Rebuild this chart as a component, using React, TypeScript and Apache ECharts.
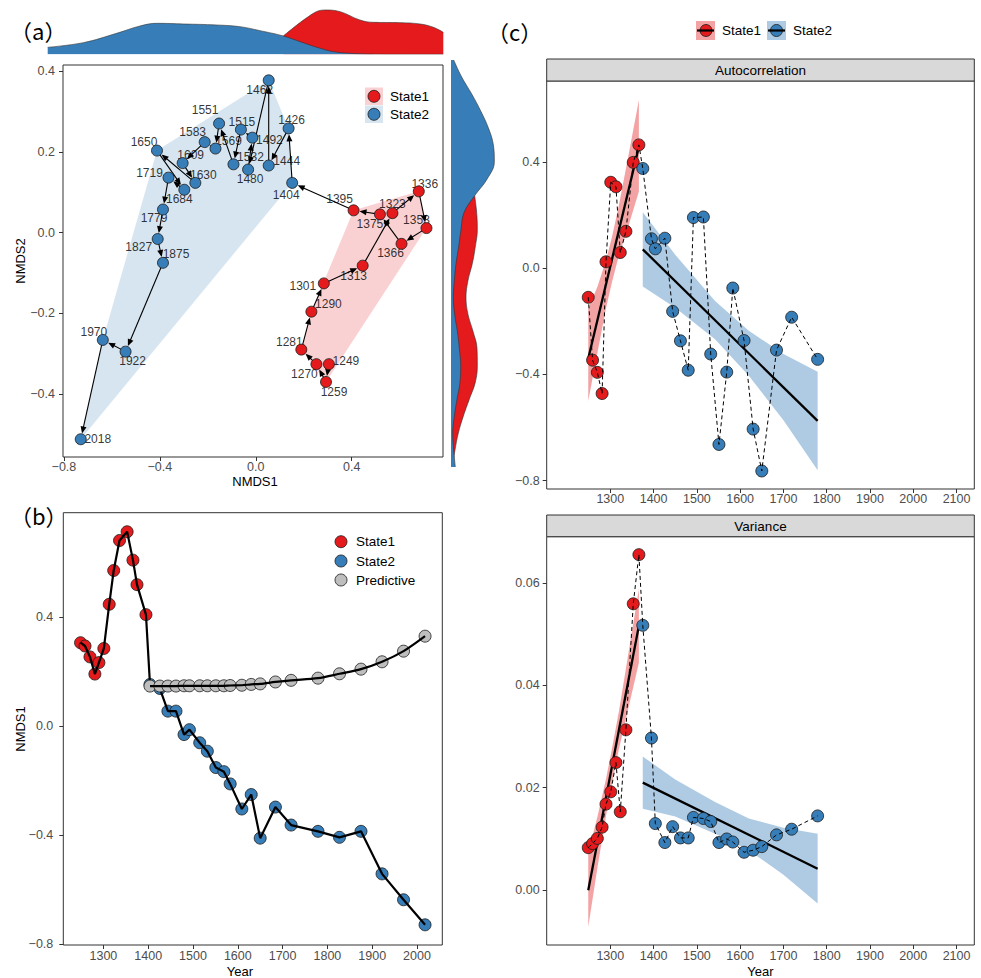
import React, { useEffect, useRef } from 'react';
import * as echarts from 'echarts';

// ---------------- DATA ----------------
const state1Years = [1249, 1259, 1270, 1281, 1290, 1301, 1313, 1323, 1336, 1353, 1366, 1375, 1395];
const state1NMDS1 = [0.305, 0.293, 0.253, 0.19, 0.232, 0.284, 0.446, 0.57, 0.68, 0.712, 0.608, 0.518, 0.408];
const state1NMDS2 = [-0.326, -0.37, -0.326, -0.29, -0.196, -0.126, -0.082, 0.048, 0.102, 0.011, -0.028, 0.045, 0.055];

const state2Years = [1404, 1426, 1444, 1462, 1480, 1492, 1515, 1532, 1551, 1569, 1583, 1609, 1630, 1650, 1684, 1719, 1779, 1827, 1875, 1922, 1970, 2018];
const state2NMDS1 = [0.152, 0.137, 0.054, 0.054, -0.032, -0.014, -0.062, -0.093, -0.153, -0.168, -0.213, -0.305, -0.252, -0.412, -0.298, -0.364, -0.387, -0.409, -0.387, -0.543, -0.638, -0.73];
const state2NMDS2 = [0.123, 0.258, 0.166, 0.377, 0.156, 0.235, 0.255, 0.169, 0.27, 0.208, 0.224, 0.172, 0.123, 0.203, 0.106, 0.136, 0.057, -0.016, -0.075, -0.295, -0.266, -0.512];

const predYears = [1404, 1426, 1444, 1462, 1480, 1492, 1515, 1532, 1551, 1569, 1583, 1609, 1630, 1650, 1684, 1719, 1779, 1827, 1875, 1922, 1970, 2018];
const predNMDS1 = [0.146, 0.146, 0.146, 0.146, 0.147, 0.147, 0.147, 0.147, 0.147, 0.147, 0.148, 0.149, 0.152, 0.154, 0.161, 0.167, 0.175, 0.191, 0.208, 0.235, 0.274, 0.329];

// marginal densities
const topDensX2 = [-0.73, -0.599, -0.477, -0.391, -0.33, -0.232, -0.11, -0.025, 0.049, 0.135, 0.196, 0.27, 0.318, 0.38, 0.441, 0.55, 0.722];
const topDens2 = [0.21, 0.35, 0.63, 0.85, 0.93, 0.91, 0.88, 0.83, 0.71, 0.55, 0.38, 0.18, 0.08, 0.03, 0.01, 0.0, 0.0];
const topDensX1 = [0.135, 0.245, 0.288, 0.343, 0.416, 0.465, 0.563, 0.637, 0.686, 0.722];
const topDens1 = [0.55, 1.23, 1.33, 1.28, 1.03, 0.96, 0.95, 0.91, 0.81, 0.66];

const rightDensY = [0.377, 0.34, 0.303, 0.266, 0.229, 0.192, 0.155, 0.118, 0.081, 0.044, 0.007, -0.03, -0.067, -0.104, -0.141, -0.178, -0.215, -0.252, -0.289, -0.326, -0.363, -0.4, -0.437, -0.474, -0.511];
const rightDens2 = [0.08, 0.32, 0.62, 0.89, 1.12, 1.27, 1.3, 1.09, 0.71, 0.39, 0.3, 0.23, 0.15, 0.1, 0.07, 0.11, 0.19, 0.25, 0.29, 0.27, 0.18, 0.1, 0.05, 0.08, 0.13];
const rightDens1 = [null, null, null, null, null, null, null, null, 0.71, 0.77, 0.79, 0.73, 0.64, 0.51, 0.45, 0.51, 0.66, 0.78, 0.79, 0.73, 0.55, 0.37, 0.22, 0.12, 0.04];

// panel (c)
const cYears1 = [1249, 1259, 1270, 1281, 1290, 1301, 1313, 1323, 1336, 1353, 1366];
const cYears2 = [1375, 1395, 1404, 1426, 1444, 1462, 1480, 1492, 1515, 1532, 1551, 1569, 1583, 1609, 1630, 1650, 1684, 1719, 1779];
const ac1 = [-0.109, -0.346, -0.392, -0.472, 0.025, 0.325, 0.308, 0.06, 0.14, 0.4, 0.466];
const ac2 = [0.377, 0.112, 0.074, 0.114, -0.162, -0.273, -0.384, 0.192, 0.194, -0.323, -0.664, -0.391, -0.074, -0.272, -0.606, -0.764, -0.308, -0.184, -0.343];
const var1 = [0.0083, 0.0091, 0.0101, 0.0123, 0.0168, 0.0192, 0.0249, 0.0153, 0.0313, 0.0559, 0.0655];
const var2 = [0.0517, 0.0297, 0.013, 0.0093, 0.0124, 0.0102, 0.0102, 0.0142, 0.014, 0.0134, 0.0093, 0.01, 0.0094, 0.0074, 0.0078, 0.0085, 0.0108, 0.0119, 0.0145];

const fitYears1 = [1249, 1366];
const fitYears2 = [1375, 1779];
const acFit1 = [-0.34, 0.459];
const acFit2 = [0.072, -0.575];
const varFit1 = [0.0, 0.0516];
const varFit2 = [0.021, 0.0042];

const bandYears1 = [1249, 1270, 1290, 1304, 1320, 1340, 1366];
const bandYears2 = [1375, 1450, 1542, 1620, 1700, 1779];
const acBand1Lo = [-0.5, -0.32, -0.15, -0.05, 0.05, 0.15, 0.29];
const acBand1Hi = [-0.15, -0.07, 0.03, 0.12, 0.24, 0.41, 0.635];
const acBand2Lo = [-0.068, -0.148, -0.267, -0.405, -0.573, -0.761];
const acBand2Hi = [0.212, 0.052, -0.123, -0.235, -0.323, -0.39];
const varBand1Lo = [-0.0072, 0.0043, 0.0145, 0.0209, 0.0276, 0.0349, 0.0444];
const varBand1Hi = [0.0072, 0.0143, 0.0217, 0.0277, 0.035, 0.0453, 0.0588];
const varBand2Lo = [0.0159, 0.0144, 0.011, 0.0078, 0.003, -0.0026];
const varBand2Hi = [0.0261, 0.0216, 0.0172, 0.014, 0.0122, 0.011];

// tick values
const ticksA_x = [-0.8, -0.4, 0, 0.4];
const ticksA_y = [-0.4, -0.2, 0, 0.2, 0.4];
const ticksB_x = [1300, 1400, 1500, 1600, 1700, 1800, 1900, 2000];
const ticksB_y = [-0.8, -0.4, 0, 0.4];
const ticksC_x = [1300, 1400, 1500, 1600, 1700, 1800, 1900, 2000, 2100];
const ticksC_y1 = [-0.8, -0.4, 0, 0.4];
const ticksC_y2 = [0, 0.02, 0.04, 0.06];

// label placement (style, px offsets)
const labelOffsets: Record<number, [number, number]> = {
  1249: [17, -3], 1259: [8, 10], 1270: [-12, 10], 1281: [-12, -8], 1290: [17, -8], 1301: [-21, 3], 1313: [-9, 10],
  1323: [0, -9], 1336: [6, -7], 1353: [-10, -8], 1366: [-11, 9], 1375: [-10, 10], 1395: [-14, -11],
  1404: [-6, 12], 1426: [3, -8], 1444: [18, -5], 1462: [-9, 10], 1480: [2, 9], 1492: [17, 2], 1515: [1, -8],
  1532: [17, -7], 1551: [-14, -14], 1569: [13, -8], 1583: [-12, -10], 1609: [8, -8], 1630: [8, -8], 1650: [-13, -9],
  1684: [-5, 9], 1719: [-19, -5], 1779: [-9, 8], 1827: [-19, 8], 1875: [13, -9], 1922: [7, 9], 1970: [-9, -8], 2018: [17, 0],
};

// ---------------- STYLE ----------------
const RED = '#E41A1C';
const BLUE = '#377EB8';
const GREY = '#BEBEBE';
const FONT = "'Liberation Sans', Arial, sans-serif";
const CJK = "'Noto Sans CJK SC', sans-serif";

const fmt = (d: number) => (v: number) => (v < -1e-9 ? '\u2212' : '') + Math.abs(v).toFixed(d);

function convexHull(pts: number[][]) {
  const p = pts.slice().sort((a, b) => a[0] - b[0] || a[1] - b[1]);
  const cross = (o: number[], a: number[], b: number[]) => (a[0] - o[0]) * (b[1] - o[1]) - (a[1] - o[1]) * (b[0] - o[0]);
  const lower: number[][] = [];
  for (const q of p) {
    while (lower.length >= 2 && cross(lower[lower.length - 2], lower[lower.length - 1], q) <= 0) lower.pop();
    lower.push(q);
  }
  const upper: number[][] = [];
  for (let i = p.length - 1; i >= 0; i--) {
    const q = p[i];
    while (upper.length >= 2 && cross(upper[upper.length - 2], upper[upper.length - 1], q) <= 0) upper.pop();
    upper.push(q);
  }
  upper.pop();
  lower.pop();
  return lower.concat(upper);
}

function valueAxis(gridIndex: number, min: number, max: number, ticks: number[], digits: number, margin: number) {
  return {
    type: 'value', gridIndex, min, max,
    axisLine: { show: false, onZero: false },
    axisTick: { show: true, length: 4, lineStyle: { color: '#333', width: 1 }, customValues: ticks },
    axisLabel: { show: true, customValues: ticks, formatter: fmt(digits), color: '#4D4D4D', fontSize: 12.5, margin, fontFamily: FONT },
    splitLine: { show: false },
  };
}

function hiddenAxis(gridIndex: number, min: number, max: number) {
  return { type: 'value', gridIndex, min, max, show: false, axisLine: { onZero: false }, splitLine: { show: false } };
}

function ribbon(xi: number, yi: number, years: number[], lo: number[], hi: number[], color: string) {
  return {
    type: 'custom', xAxisIndex: xi, yAxisIndex: yi, z: 1, silent: true,
    data: [[years[0], lo[0]]], encode: { x: 0, y: 1 },
    renderItem: (_p: any, api: any) => ({
      type: 'polygon',
      shape: {
        points: [
          ...years.map((t, i) => api.coord([t, hi[i]])),
          ...years.map((t, i) => api.coord([t, lo[i]])).reverse(),
        ],
      },
      style: { fill: color },
    }),
  };
}

function fitLine(xi: number, yi: number, years: number[], vals: number[]) {
  return {
    type: 'line', xAxisIndex: xi, yAxisIndex: yi, z: 2, symbol: 'none', silent: true,
    data: years.map((t, i) => [t, vals[i]]),
    lineStyle: { color: '#000', width: 2.3 },
  };
}

function pts(xi: number, yi: number, xs: number[], ys: number[], color: string, z: number, size = 12) {
  return {
    type: 'scatter', xAxisIndex: xi, yAxisIndex: yi, z, symbolSize: size, silent: true,
    data: xs.map((x, i) => [x, ys[i]]),
    itemStyle: { color, borderColor: '#1a1a1a', borderWidth: 0.8, opacity: 1 },
  };
}

function buildOption() {
  const path = [
    ...state1Years.map((y, i) => [state1NMDS1[i], state1NMDS2[i], y]),
    ...state2Years.map((y, i) => [state2NMDS1[i], state2NMDS2[i], y]),
  ];
  const segments = path.slice(0, -1).map((p, i) => [p[0], p[1], path[i + 1][0], path[i + 1][1]]);
  const hull1 = convexHull(state1Years.map((_, i) => [state1NMDS1[i], state1NMDS2[i]]));
  const hull2 = convexHull(state2Years.map((_, i) => [state2NMDS1[i], state2NMDS2[i]]));
  const hulls = [hull1, hull2];
  const hullColors = ['rgba(228,26,28,0.2)', 'rgba(55,126,184,0.2)'];

  const obsYears = [...state1Years, ...state2Years];
  const obsVals = [...state1NMDS1, ...state2NMDS1];

  const cAllYears = [...cYears1, ...cYears2];
  const acAll = [...ac1, ...ac2];
  const varAll = [...var1, ...var2];

  const series: any[] = [
    // ---- (a) hulls
    {
      type: 'custom', xAxisIndex: 0, yAxisIndex: 0, z: 1, silent: true,
      data: hulls.map((h) => h[0]), encode: { x: 0, y: 1 },
      renderItem: (params: any, api: any) => ({
        type: 'polygon',
        shape: { points: hulls[params.dataIndex].map((p) => api.coord(p)) },
        style: { fill: hullColors[params.dataIndex] },
      }),
    },
    // ---- (a) year labels
    {
      type: 'scatter', xAxisIndex: 0, yAxisIndex: 0, z: 2, symbolSize: 1, silent: true,
      itemStyle: { color: 'rgba(0,0,0,0)' },
      data: path.map((p) => ({ value: [p[0], p[1]], name: String(p[2]), label: { offset: labelOffsets[p[2]] || [0, 0] } })),
      label: { show: true, position: 'inside', formatter: '{b}', color: '#000', fontSize: 12, fontFamily: FONT },
    },
    // ---- (a) arrows
    {
      type: 'custom', xAxisIndex: 0, yAxisIndex: 0, z: 3, silent: true,
      data: segments, encode: { x: [0, 2], y: [1, 3] },
      renderItem: (_p: any, api: any) => {
        const a = api.coord([api.value(0), api.value(1)]);
        const b = api.coord([api.value(2), api.value(3)]);
        const dx = b[0] - a[0];
        const dy = b[1] - a[1];
        const len = Math.hypot(dx, dy) || 1;
        const ux = dx / len;
        const uy = dy / len;
        const tip = [b[0] - ux * 6, b[1] - uy * 6];
        const L = 7;
        const W = 3;
        const base = [tip[0] - ux * L, tip[1] - uy * L];
        return {
          type: 'group',
          children: [
            { type: 'line', shape: { x1: a[0], y1: a[1], x2: tip[0] - ux * 2, y2: tip[1] - uy * 2 }, style: { stroke: '#000', lineWidth: 1.1 } },
            { type: 'polygon', shape: { points: [tip, [base[0] - uy * W, base[1] + ux * W], [base[0] + uy * W, base[1] - ux * W]] }, style: { fill: '#000' } },
          ],
        };
      },
    },
    pts(0, 0, state1NMDS1, state1NMDS2, RED, 4, 11),
    pts(0, 0, state2NMDS1, state2NMDS2, BLUE, 4, 11),

    // ---- top marginal density
    {
      type: 'line', xAxisIndex: 1, yAxisIndex: 1, z: 1, symbol: 'none', smooth: 0.4, silent: true,
      data: topDensX1.map((x, i) => [x, topDens1[i]]),
      lineStyle: { color: '#333', width: 0.6 }, areaStyle: { color: RED, opacity: 1 },
    },
    {
      type: 'line', xAxisIndex: 1, yAxisIndex: 1, z: 2, symbol: 'none', smooth: 0.4, silent: true,
      data: topDensX2.map((x, i) => [x, topDens2[i]]),
      lineStyle: { color: '#333', width: 0.6 }, areaStyle: { color: BLUE, opacity: 1 },
    },
    // ---- right marginal density
    {
      type: 'line', xAxisIndex: 2, yAxisIndex: 2, z: 1, symbol: 'none', smooth: 0.4, silent: true, connectNulls: false,
      data: rightDens1.map((v) => (v === null ? '-' : v)),
      lineStyle: { color: '#333', width: 0.6 }, areaStyle: { color: RED, opacity: 1 },
    },
    {
      type: 'line', xAxisIndex: 2, yAxisIndex: 2, z: 2, symbol: 'none', smooth: 0.4, silent: true,
      data: rightDens2,
      lineStyle: { color: '#333', width: 0.6 }, areaStyle: { color: BLUE, opacity: 1 },
    },

    // ---- (b)
    pts(3, 3, state1Years, state1NMDS1, RED, 2),
    pts(3, 3, state2Years, state2NMDS1, BLUE, 2),
    {
      type: 'line', xAxisIndex: 3, yAxisIndex: 3, z: 3, symbol: 'none', silent: true,
      data: obsYears.map((t, i) => [t, obsVals[i]]),
      lineStyle: { color: '#000', width: 2.2 },
    },
    pts(3, 3, predYears, predNMDS1, GREY, 4),
    {
      type: 'line', xAxisIndex: 3, yAxisIndex: 3, z: 5, symbol: 'none', smooth: 0.3, silent: true,
      data: predYears.map((t, i) => [t, predNMDS1[i]]),
      lineStyle: { color: '#000', width: 2.2 },
    },

    // ---- (c) autocorrelation
    ribbon(4, 4, bandYears1, acBand1Lo, acBand1Hi, 'rgba(228,26,28,0.4)'),
    ribbon(4, 4, bandYears2, acBand2Lo, acBand2Hi, 'rgba(55,126,184,0.4)'),
    fitLine(4, 4, fitYears1, acFit1),
    fitLine(4, 4, fitYears2, acFit2),
    pts(4, 4, cYears1, ac1, RED, 3),
    pts(4, 4, cYears2, ac2, BLUE, 3),
    {
      type: 'line', xAxisIndex: 4, yAxisIndex: 4, z: 4, symbol: 'none', silent: true,
      data: cAllYears.map((t, i) => [t, acAll[i]]),
      lineStyle: { color: '#000', width: 1, type: [4, 3] },
    },

    // ---- (c) variance
    ribbon(5, 5, bandYears1, varBand1Lo, varBand1Hi, 'rgba(228,26,28,0.4)'),
    ribbon(5, 5, bandYears2, varBand2Lo, varBand2Hi, 'rgba(55,126,184,0.4)'),
    fitLine(5, 5, fitYears1, varFit1),
    fitLine(5, 5, fitYears2, varFit2),
    pts(5, 5, cYears1, var1, RED, 3),
    pts(5, 5, cYears2, var2, BLUE, 3),
    {
      type: 'line', xAxisIndex: 5, yAxisIndex: 5, z: 4, symbol: 'none', silent: true,
      data: cAllYears.map((t, i) => [t, varAll[i]]),
      lineStyle: { color: '#000', width: 1, type: [4, 3] },
    },
  ];

  const border = { show: true, borderColor: '#333', borderWidth: 1, backgroundColor: 'transparent' };

  const txt = (text: string, x: number, y: number, size: number, extra: any = {}) => ({
    type: 'text', x, y, z: 10, silent: true, ...extra,
    style: { text, fontSize: size, fontFamily: FONT, fill: '#000', align: 'center', verticalAlign: 'middle', ...(extra.style || {}) },
  });

  const keyCircle = (cx: number, cy: number, fill: string) => ({
    type: 'circle', z: 10, silent: true, shape: { cx, cy, r: 6 }, style: { fill, stroke: '#1a1a1a', lineWidth: 0.8 },
  });

  const graphic: any[] = [
    // panel letters
    { type: 'text', x: 10, y: 30, z: 10, silent: true, style: { text: '（a）', fontSize: 22, fontFamily: CJK, fill: '#000', align: 'left', verticalAlign: 'middle' } },
    { type: 'text', x: 10, y: 515, z: 10, silent: true, style: { text: '（b）', fontSize: 22, fontFamily: CJK, fill: '#000', align: 'left', verticalAlign: 'middle' } },
    { type: 'text', x: 487, y: 31, z: 10, silent: true, style: { text: '（c）', fontSize: 22, fontFamily: CJK, fill: '#000', align: 'left', verticalAlign: 'middle' } },
    // axis titles
    txt('NMDS1', 255, 481, 13),
    txt('NMDS2', 20, 261, 13, { rotation: Math.PI / 2 }),
    txt('NMDS1', 20, 729, 13, { rotation: Math.PI / 2 }),
    txt('Year', 240, 971, 13),
    txt('Year', 760.5, 971, 13),
    // legend (a)
    { type: 'rect', z: 9, silent: true, shape: { x: 365, y: 87.5, width: 18, height: 17.5 }, style: { fill: 'rgba(228,26,28,0.2)' } },
    { type: 'rect', z: 9, silent: true, shape: { x: 365, y: 105.5, width: 18, height: 17.5 }, style: { fill: 'rgba(55,126,184,0.2)' } },
    keyCircle(374, 96.3, RED),
    keyCircle(374, 114.3, BLUE),
    txt('State1', 390, 96.3, 13.5, { style: { align: 'left' } }),
    txt('State2', 390, 114.3, 13.5, { style: { align: 'left' } }),
    // legend (b)
    keyCircle(341, 541.7, RED),
    keyCircle(341, 561, BLUE),
    keyCircle(341, 580, GREY),
    txt('State1', 356, 541.7, 13.5, { style: { align: 'left' } }),
    txt('State2', 356, 561, 13.5, { style: { align: 'left' } }),
    txt('Predictive', 356, 580, 13.5, { style: { align: 'left' } }),
    // legend (c)
    { type: 'rect', z: 9, silent: true, shape: { x: 696, y: 21, width: 19, height: 19 }, style: { fill: 'rgba(228,26,28,0.4)' } },
    keyCircle(706, 30.5, RED),
    { type: 'line', z: 11, silent: true, shape: { x1: 697, y1: 30.5, x2: 714, y2: 30.5 }, style: { stroke: '#000', lineWidth: 2.2 } },
    txt('State1', 722, 30.5, 13.5, { style: { align: 'left' } }),
    { type: 'rect', z: 9, silent: true, shape: { x: 767, y: 21, width: 19, height: 19 }, style: { fill: 'rgba(55,126,184,0.4)' } },
    keyCircle(776.5, 30.5, BLUE),
    { type: 'line', z: 11, silent: true, shape: { x1: 768, y1: 30.5, x2: 785, y2: 30.5 }, style: { stroke: '#000', lineWidth: 2.2 } },
    txt('State2', 793, 30.5, 13.5, { style: { align: 'left' } }),
    // facet strips
    { type: 'rect', z: 9, silent: true, shape: { x: 546.7, y: 59, width: 427.6, height: 22 }, style: { fill: '#D9D9D9', stroke: '#333', lineWidth: 1 } },
    txt('Autocorrelation', 760.5, 70, 13.5),
    { type: 'rect', z: 9, silent: true, shape: { x: 546.7, y: 515, width: 427.6, height: 21.7 }, style: { fill: '#D9D9D9', stroke: '#333', lineWidth: 1 } },
    txt('Variance', 760.5, 526, 13.5),
  ];

  return {
    animation: false,
    backgroundColor: '#fff',
    textStyle: { fontFamily: FONT },
    grid: [
      { left: 63, top: 65, width: 380, height: 392, ...border },
      { left: 47.7, top: 6, width: 395.6, height: 48.3, show: false },
      { left: 451, top: 60, width: 50, height: 407, show: false },
      { left: 63.3, top: 512.7, width: 379, height: 432.3, ...border },
      { left: 546.7, top: 81, width: 427.6, height: 408, ...border },
      { left: 546.7, top: 536.7, width: 427.6, height: 408.3, ...border },
    ],
    xAxis: [
      valueAxis(0, -0.804, 0.781, ticksA_x, 1, 3),
      hiddenAxis(1, -0.73, 0.722),
      hiddenAxis(2, 0, 1.5),
      valueAxis(3, 1210.5, 2056.5, ticksB_x, 0, 4),
      valueAxis(4, 1153, 2141, ticksC_x, 0, 3),
      valueAxis(5, 1153, 2141, ticksC_x, 0, 4),
    ],
    yAxis: [
      valueAxis(0, -0.556, 0.415, ticksA_y, 1, 8),
      hiddenAxis(1, 0, 1.45),
      { type: 'category', gridIndex: 2, data: rightDensY.map(String), inverse: true, boundaryGap: false, show: false },
      valueAxis(3, -0.804, 0.782, ticksB_y, 1, 10),
      valueAxis(4, -0.832, 0.707, ticksC_y1, 1, 7),
      valueAxis(5, -0.0107, 0.069, ticksC_y2, 2, 7),
    ],
    series,
    graphic,
  };
}

export default function App() {
  const ref = useRef<HTMLDivElement>(null);
  useEffect(() => {
    if (!ref.current) return;
    const chart = echarts.init(ref.current, null, { renderer: 'svg' });
    chart.setOption(buildOption() as any);
    return () => chart.dispose();
  }, []);
  return <div ref={ref} style={{ position: 'absolute', left: 0, top: 0, width: 981, height: 978 }} />;
}
